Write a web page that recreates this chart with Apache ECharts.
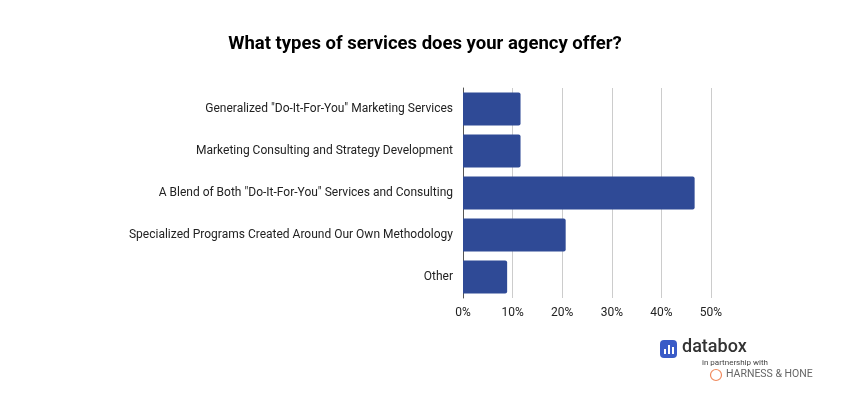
<!DOCTYPE html>
<html>
<head>
<meta charset="utf-8">
<script src="https://cdn.jsdelivr.net/npm/echarts@6/dist/echarts.min.js"></script>
<style>
  html, body { margin: 0; padding: 0; background: #fff; }
  #chart { width: 850px; height: 400px; }
</style>
</head>
<body>
<div id="chart"></div>
<script>
var categories = [
  'Generalized "Do-It-For-You" Marketing Services',
  'Marketing Consulting and Strategy Development',
  'A Blend of Both "Do-It-For-You" Services and Consulting',
  'Specialized Programs Created Around Our Own Methodology',
  'Other'
];
var shares = [11.6, 11.6, 46.7, 20.7, 8.9];
var tickMax = 50;

var chart = echarts.init(document.getElementById('chart'));

var option = {
  backgroundColor: '#fff',
  textStyle: { fontFamily: 'Roboto' },
  title: {
    text: 'What types of services does your agency offer?',
    left: 'center',
    top: 30,
    textStyle: { fontFamily: 'Roboto', fontSize: 18.5, fontWeight: 'bold', color: '#000' }
  },
  grid: { left: 463, right: 139, top: 88, bottom: 102, containLabel: false },
  xAxis: {
    type: 'value',
    min: 0,
    max: tickMax,
    interval: 10,
    axisLine: { show: false },
    axisTick: { show: false },
    splitLine: { lineStyle: { color: '#cccccc', width: 1 } },
    axisLabel: { formatter: '{value}%', color: '#222', fontSize: 12, margin: 9 }
  },
  yAxis: {
    type: 'category',
    inverse: true,
    data: categories,
    axisLine: { show: true, lineStyle: { color: '#555', width: 1 } },
    axisTick: { show: false },
    axisLabel: { color: '#222', fontSize: 12, margin: 10, padding: [2, 0, 0, 0] }
  },
  series: [{
    type: 'bar',
    data: shares,
    barCategoryGap: '21%',
    itemStyle: { color: '#2f4a96', borderRadius: [0, 2, 2, 0] },
    z: 3
  }],
  graphic: [
    // databox logo
    { type: 'rect', shape: { x: 660, y: 340, width: 17, height: 18, r: 4 }, style: { fill: '#3a5bc7' } },
    { type: 'rect', shape: { x: 664, y: 349, width: 2, height: 5 }, style: { fill: '#fff' } },
    { type: 'rect', shape: { x: 668, y: 345, width: 2, height: 9 }, style: { fill: '#fff' } },
    { type: 'rect', shape: { x: 672, y: 347, width: 2, height: 7 }, style: { fill: '#fff' } },
    { type: 'text', left: 682, top: 338, style: { text: 'databox', fill: '#333', fontSize: 18, fontFamily: 'Roboto', fontWeight: 500 } },
    { type: 'text', left: 702, top: 359, style: { text: 'in partnership with', fill: '#444', fontSize: 8, fontFamily: 'Roboto' } },
    { type: 'circle', shape: { cx: 716, cy: 375, r: 5.5 }, style: { fill: 'none', stroke: '#f08a5d', lineWidth: 1.2 } },
    { type: 'text', left: 726, top: 369, style: { text: 'HARNESS & HONE', fill: '#666', fontSize: 10.5, fontFamily: 'Roboto' } }
  ]
};

chart.setOption(option);
</script>
</body>
</html>
